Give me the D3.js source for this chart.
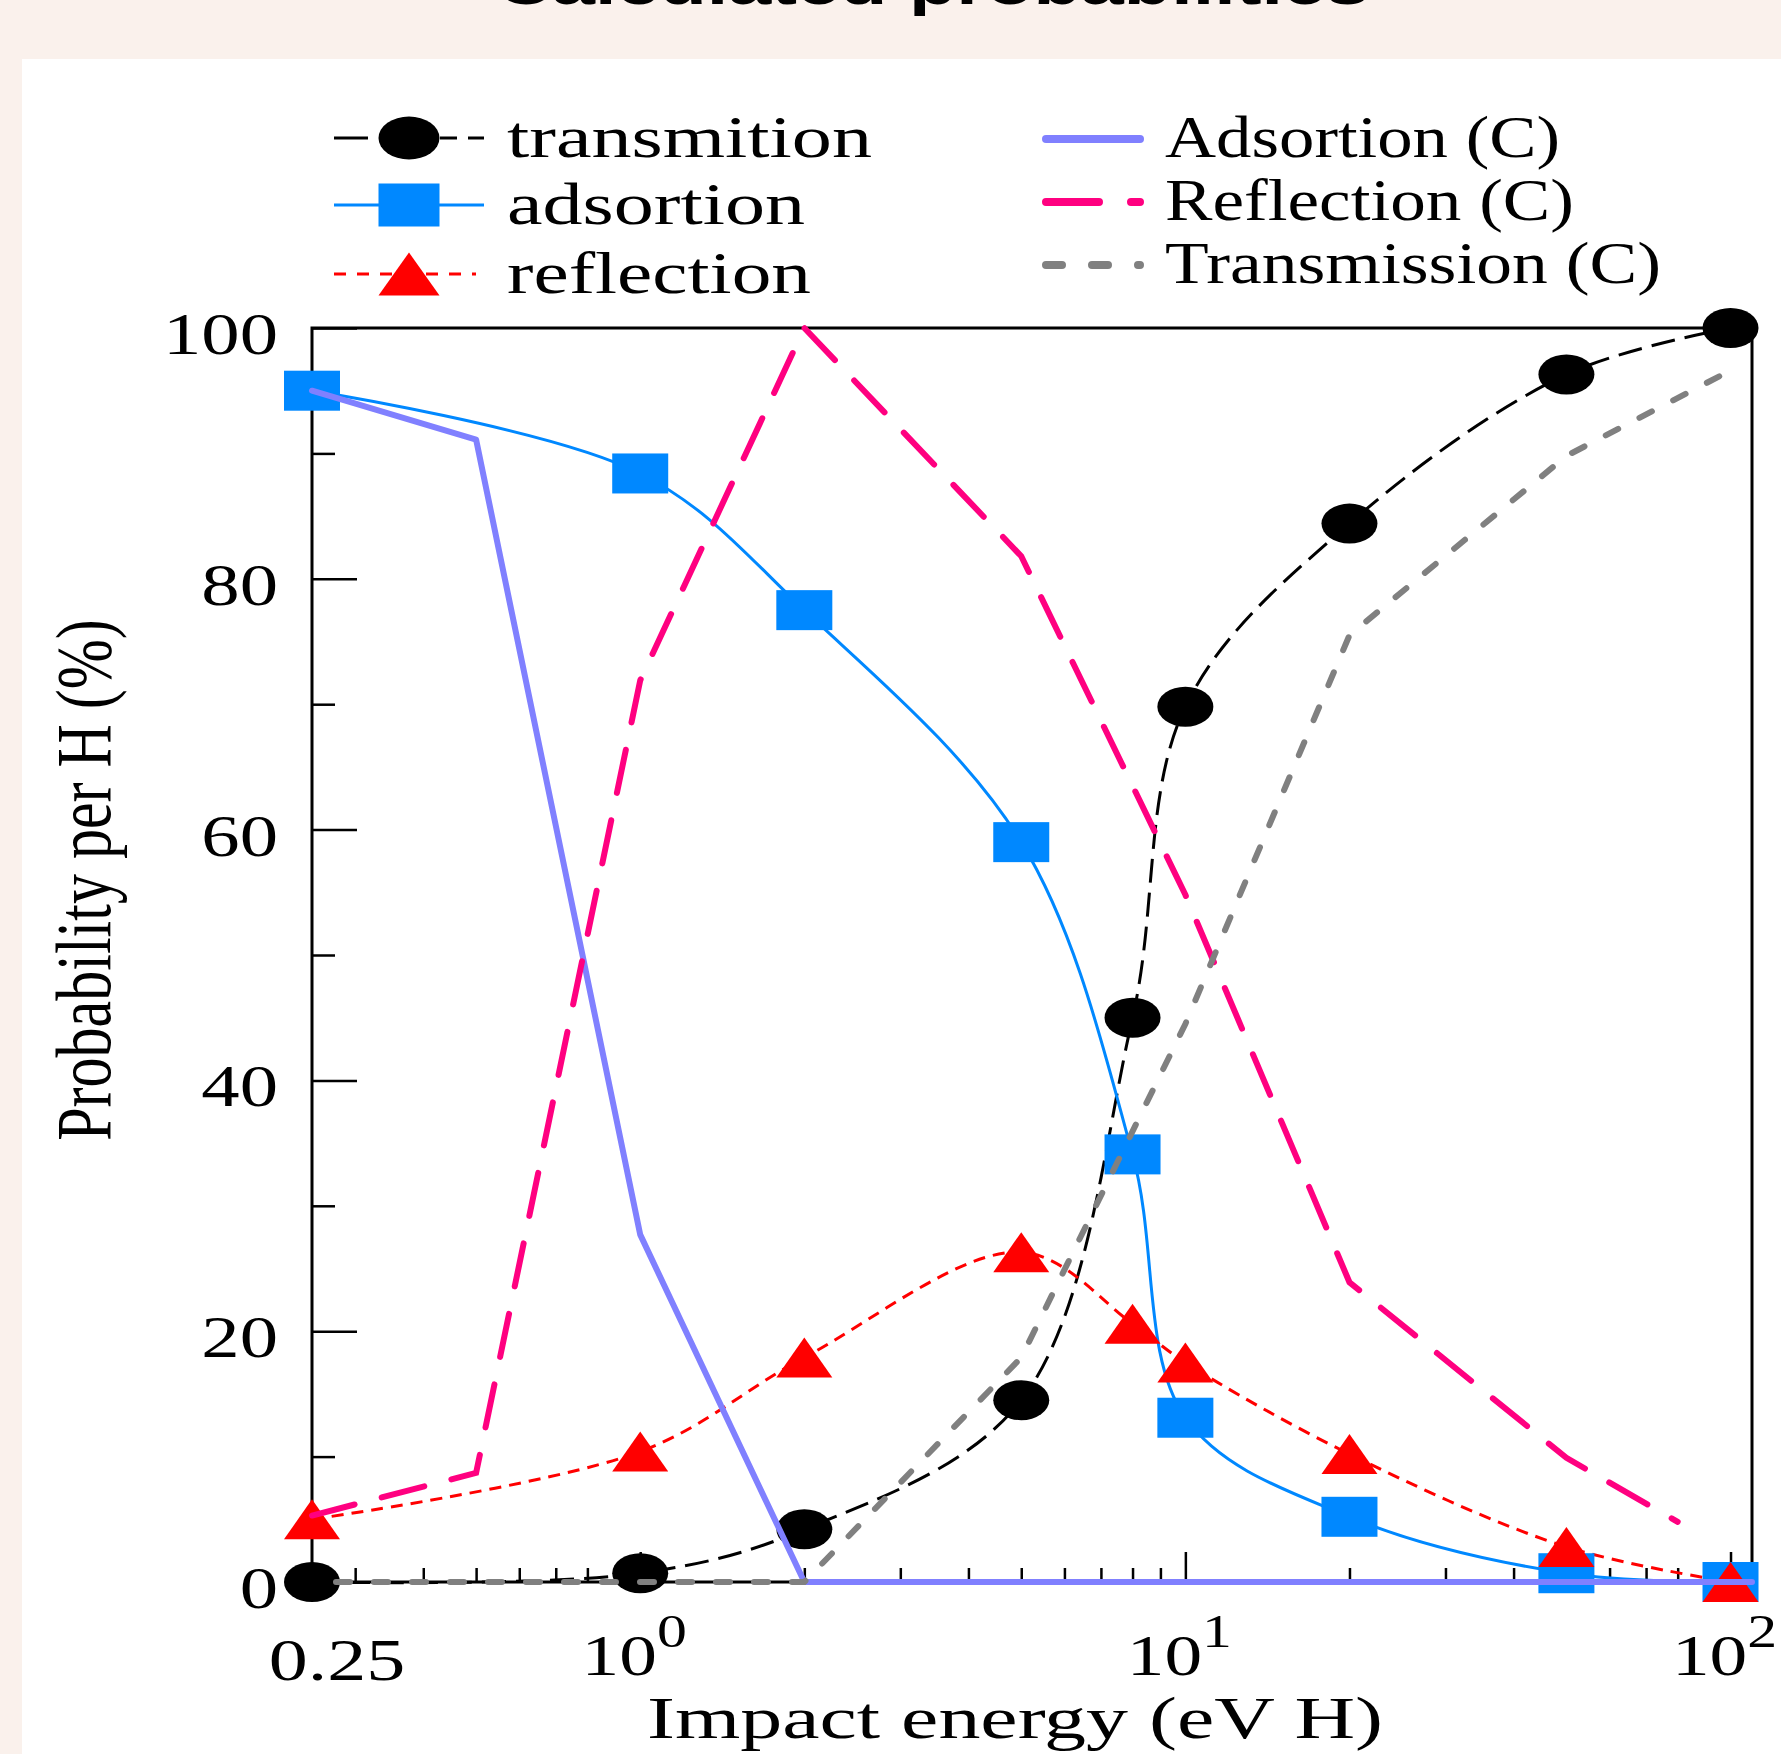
<!DOCTYPE html>
<html>
<head>
<meta charset="utf-8">
<script src="https://cdn.jsdelivr.net/npm/d3@7"></script>
<style>
body{margin:0;background:#faf1ec;}
svg{display:block;}
</style>
</head>
<body>
<svg id="chart"></svg>
<script>
// measured points (eV H -> %)
const energies = [0.25, 1, 2, 5, 8, 10, 20, 50, 100];
const transmition = [0, 0.7, 4.2, 14.5, 45.0, 69.8, 84.4, 96.3, 100];
const adsortion = [95.0, 88.4, 77.5, 59.0, 34.1, 13.1, 5.2, 0.7, 0];
const reflection = [5.0, 10.4, 17.9, 26.3, 20.6, 17.5, 10.2, 2.8, 0];

// calculated curves
const calcAdsEnergies = [0.25, 0.5, 1, 2, 109.5];
const calcAdsortion = [95.0, 91.1, 27.7, 0, 0];
const calcReflEnergies = [0.25, 0.5, 1, 2, 5, 10, 20, 50, 80];
const calcReflection = [5.3, 8.7, 71.9, 100, 81.8, 54.8, 23.9, 9.9, 4.8];
const calcTransEnergies = [0.25, 0.5, 1, 2, 5, 10, 20, 50, 104];
const calcTransmission = [0, 0, 0, 0, 17.9, 44.5, 75.5, 89.8, 97.0];

const yTicks = [0, 20, 40, 60, 80, 100];
const yMinorTicks = [10, 30, 50, 70, 90];
const xTicks = [1, 10, 100];
const xMinorTicks = [0.3, 0.4, 0.5, 0.6, 0.7, 0.8, 0.9, 2, 3, 4, 5, 6, 7, 8, 9, 20, 30, 40, 50, 60, 70, 80, 90];
const xLabelValues = [0.25, 1, 10, 100];
const xLabelBase = ["0.25", "10", "10", "10"];
const xLabelSup = ["", "0", "1", "2"];

const width = 1781;
const height = 1754;
const stretch = 1.3;

const svg = d3.select("#chart")
    .attr("width", width)
    .attr("height", height);

svg.append("rect")
    .attr("x", 0).attr("y", 0)
    .attr("width", width).attr("height", height)
    .attr("fill", "#faf1ec");

svg.append("rect")
    .attr("x", 22).attr("y", 59)
    .attr("width", width - 22).attr("height", height - 59)
    .attr("fill", "#ffffff");

// title, mostly cut off at the top (as in the source image)
svg.append("text")
    .attr("x", 496)
    .attr("y", 4)
    .attr("textLength", 873)
    .attr("lengthAdjust", "spacingAndGlyphs")
    .style("font-family", "Liberation Sans, Arial, sans-serif")
    .style("font-weight", "bold")
    .style("font-size", "57px")
    .text("Calculated probabilities");

const x = d3.scaleLog()
    .domain([0.25, 109.5])
    .range([312, 1752]);

const y = d3.scaleLinear()
    .domain([0, 100])
    .range([1582, 328]);

const serif = "Liberation Serif, Times New Roman, serif";

// ticks (inward)
function tickGroup(axis){
    const g = svg.append("g").call(axis);
    g.select(".domain").remove();
    g.selectAll(".tick line").attr("stroke", "#000").attr("stroke-width", 2.5);
    return g;
}

tickGroup(d3.axisLeft(y).tickValues(yTicks).tickSize(-45).tickFormat(""))
    .attr("transform", `translate(${x(0.25)},0)`);
tickGroup(d3.axisLeft(y).tickValues(yMinorTicks).tickSize(-23).tickFormat(""))
    .attr("transform", `translate(${x(0.25)},0)`);
tickGroup(d3.axisBottom(x).tickValues(xTicks).tickSize(-30).tickFormat(""))
    .attr("transform", `translate(0,${y(0)})`);
tickGroup(d3.axisBottom(x).tickValues(xMinorTicks).tickSize(-14).tickFormat(""))
    .attr("transform", `translate(0,${y(0)})`);

// frame
svg.append("rect")
    .attr("x", x.range()[0])
    .attr("y", y.range()[1])
    .attr("width", x.range()[1] - x.range()[0])
    .attr("height", y.range()[0] - y.range()[1])
    .attr("fill", "none")
    .attr("stroke", "#000")
    .attr("stroke-width", 3);

// y tick labels
yTicks.forEach(v => {
    svg.append("text")
        .attr("transform", `translate(278,${y(v) + 26}) scale(${stretch},1)`)
        .attr("text-anchor", "end")
        .style("font-family", serif)
        .style("font-size", "59px")
        .text(v);
});

// x tick labels with powers of ten
xLabelValues.forEach((v, i) => {
    const t = svg.append("text")
        .attr("transform", `translate(${x(v) + (i === 0 ? 25 : -6)},${i === 0 ? 1680 : 1675}) scale(${stretch},1)`)
        .attr("text-anchor", "middle")
        .style("font-family", serif)
        .style("font-size", i === 0 ? "60px" : "58px");
    t.append("tspan").text(xLabelBase[i]);
    if(xLabelSup[i]){
        t.append("tspan")
            .attr("dy", -28)
            .style("font-size", "46px")
            .text(xLabelSup[i]);
    }
});

// axis titles
svg.append("text")
    .attr("x", 647)
    .attr("y", 1738)
    .attr("textLength", 736)
    .attr("lengthAdjust", "spacingAndGlyphs")
    .style("font-family", serif)
    .style("font-size", "60px")
    .text("Impact energy (eV H)");

svg.append("text")
    .attr("transform", `translate(110,880) scale(${stretch},1) rotate(-90)`)
    .attr("text-anchor", "middle")
    .style("font-family", serif)
    .style("font-size", "60px")
    .text("Probability per H (%)");

// lines
const smooth = d3.line()
    .x(d => x(d[0]))
    .y(d => y(d[1]))
    .curve(d3.curveCatmullRom.alpha(0.5));

const straight = d3.line()
    .x(d => x(d[0]))
    .y(d => y(d[1]));

const zipped = (xs, ys) => xs.map((e, i) => [e, ys[i]]);

svg.append("path")
    .attr("d", smooth(zipped(energies, transmition)))
    .attr("fill", "none")
    .attr("stroke", "#000")
    .attr("stroke-width", 3)
    .attr("stroke-dasharray", "24,10");

svg.append("path")
    .attr("d", smooth(zipped(energies, adsortion)))
    .attr("fill", "none")
    .attr("stroke", "#0088ff")
    .attr("stroke-width", 3);

svg.append("path")
    .attr("d", smooth(zipped(energies, reflection)))
    .attr("fill", "none")
    .attr("stroke", "#ff0000")
    .attr("stroke-width", 3)
    .attr("stroke-dasharray", "12,8");

// markers
const mw = 56, mh = 40;

svg.selectAll(".circ")
    .data(zipped(energies, transmition))
    .enter().append("ellipse")
    .attr("cx", d => x(d[0]))
    .attr("cy", d => y(d[1]))
    .attr("rx", mw / 2)
    .attr("ry", mh / 2)
    .attr("fill", "#000");

svg.selectAll(".sq")
    .data(zipped(energies, adsortion))
    .enter().append("rect")
    .attr("x", d => x(d[0]) - mw / 2)
    .attr("y", d => y(d[1]) - mh / 2)
    .attr("width", mw)
    .attr("height", mh)
    .attr("fill", "#0088ff");

function triangle(cx, cy, w, h){
    return `M${cx},${cy - h / 2}L${cx + w / 2},${cy + h / 2}L${cx - w / 2},${cy + h / 2}Z`;
}

svg.selectAll(".tri")
    .data(zipped(energies, reflection))
    .enter().append("path")
    .attr("d", d => triangle(x(d[0]), y(d[1]), mw, mh))
    .attr("fill", "#ff0000");

// calculated lines
svg.append("path")
    .attr("d", straight(zipped(calcAdsEnergies, calcAdsortion)))
    .attr("fill", "none")
    .attr("stroke", "#8080ff")
    .attr("stroke-width", 6)
    .attr("stroke-linecap", "round")
    .attr("stroke-linejoin", "round");

svg.append("path")
    .attr("d", straight(zipped(calcReflEnergies, calcReflection)))
    .attr("fill", "none")
    .attr("stroke", "#ff0080")
    .attr("stroke-width", 6)
    .attr("stroke-linecap", "round")
    .attr("stroke-dasharray", "44,28");

svg.append("path")
    .attr("d", straight(zipped(calcTransEnergies, calcTransmission)))
    .attr("fill", "none")
    .attr("stroke", "#808080")
    .attr("stroke-width", 6)
    .attr("stroke-linecap", "round")
    .attr("stroke-dasharray", "14,24")
    .attr("stroke-dashoffset", 14);

// legend, left column
const legLeft = [
    {label: "transmition", y: 138, len: 365},
    {label: "adsortion", y: 205, len: 298},
    {label: "reflection", y: 274, len: 304}
];
const lw = 61, lh = 43;

svg.append("line")
    .attr("x1", 334).attr("x2", 484)
    .attr("y1", legLeft[0].y).attr("y2", legLeft[0].y)
    .attr("stroke", "#000").attr("stroke-width", 3)
    .attr("stroke-dasharray", "34,72,17,11,16");
svg.append("ellipse")
    .attr("cx", 409).attr("cy", legLeft[0].y)
    .attr("rx", lw / 2).attr("ry", lh / 2)
    .attr("fill", "#000");

svg.append("line")
    .attr("x1", 334).attr("x2", 484)
    .attr("y1", legLeft[1].y).attr("y2", legLeft[1].y)
    .attr("stroke", "#0088ff").attr("stroke-width", 3);
svg.append("rect")
    .attr("x", 409 - lw / 2).attr("y", legLeft[1].y - lh / 2)
    .attr("width", lw).attr("height", lh)
    .attr("fill", "#0088ff");

svg.append("line")
    .attr("x1", 334).attr("x2", 476)
    .attr("y1", legLeft[2].y).attr("y2", legLeft[2].y)
    .attr("stroke", "#ff0000").attr("stroke-width", 3)
    .attr("stroke-dasharray", "12,11");
svg.append("path")
    .attr("d", triangle(409, legLeft[2].y, lw, lh))
    .attr("fill", "#ff0000");

legLeft.forEach(d => {
    svg.append("text")
        .attr("x", 507)
        .attr("y", d.y + 19)
        .attr("textLength", d.len)
        .attr("lengthAdjust", "spacingAndGlyphs")
        .style("font-family", serif)
        .style("font-size", "60px")
        .text(d.label);
});

// legend, right column
const legRight = [
    {label: "Adsortion (C)", y: 139, len: 395, color: "#8080ff", dash: null},
    {label: "Reflection (C)", y: 202, len: 409, color: "#ff0080", dash: "53,32"},
    {label: "Transmission (C)", y: 265, len: 496, color: "#808080", dash: "16,30"}
];

legRight.forEach(d => {
    const ln = svg.append("line")
        .attr("x1", 1046).attr("x2", 1140)
        .attr("y1", d.y).attr("y2", d.y)
        .attr("stroke", d.color)
        .attr("stroke-width", 8)
        .attr("stroke-linecap", "round");
    if(d.dash) ln.attr("stroke-dasharray", d.dash);
    svg.append("text")
        .attr("x", 1165)
        .attr("y", d.y + 18)
        .attr("textLength", d.len)
        .attr("lengthAdjust", "spacingAndGlyphs")
        .style("font-family", serif)
        .style("font-size", "60px")
        .text(d.label);
});
</script>
</body>
</html>
